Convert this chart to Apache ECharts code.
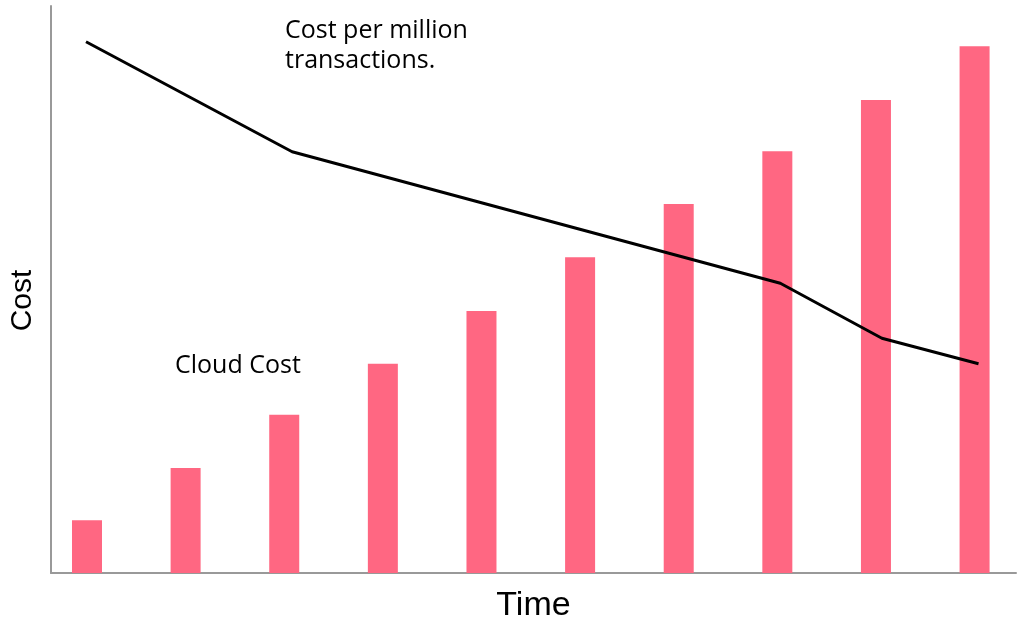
<!DOCTYPE html>
<html>
<head>
<meta charset="utf-8">
<script src="https://cdn.jsdelivr.net/npm/echarts@6/dist/echarts.min.js"></script>
<style>html,body{margin:0;padding:0;background:#fff}#c{width:1024px;height:629px}</style>
</head>
<body>
<div id="c"></div>
<script>
// Data (arbitrary units, 0-100 scale)
var barPositions = [1, 2, 3, 4, 5, 6, 7, 8, 9, 10];
var cloudCost = [9.3, 18.5, 27.9, 36.9, 46.2, 55.7, 65.1, 74.4, 83.4, 92.9];
var linePositions = [0.99, 3.08, 8.03, 9.06, 10.04];
var costPerMillion = [93.7, 74.3, 51.1, 41.4, 36.9];
var xAxisName = 'Time';
var yAxisName = 'Cost';
var barLabel = 'Cloud Cost';
var lineLabel = 'Cost per million\ntransactions.';

var chart = echarts.init(document.getElementById('c'), null, {renderer: 'canvas'});
var annoFont = '"Open Sans", Lato, sans-serif';
chart.setOption({
  animation: false,
  backgroundColor: '#ffffff',
  grid: {left: 51, right: 8, top: 6, bottom: 56, containLabel: false},
  xAxis: {
    type: 'value', min: 0.635, max: 10.42,
    name: xAxisName, nameLocation: 'middle', nameGap: 16,
    nameTextStyle: {fontSize: 34, color: '#000', fontFamily: '"Liberation Sans", Arial, sans-serif'},
    axisLine: {show: true, lineStyle: {color: '#999', width: 2}},
    axisTick: {show: false}, axisLabel: {show: false}, splitLine: {show: false}
  },
  yAxis: {
    type: 'value', min: 0, max: 100,
    name: yAxisName, nameLocation: 'middle', nameGap: 13, nameRotate: 90,
    nameTextStyle: {fontSize: 30, color: '#000', fontFamily: '"Liberation Sans", Arial, sans-serif', padding: [0, 22, 0, 0]},
    axisLine: {show: true, lineStyle: {color: '#999', width: 2}},
    axisTick: {show: false}, axisLabel: {show: false}, splitLine: {show: false}
  },
  series: [
    {
      type: 'bar', barWidth: 30,
      data: barPositions.map(function (x, i) { return [x, cloudCost[i]]; }),
      itemStyle: {color: '#ff6782'}
    },
    {
      type: 'line', symbol: 'none',
      data: linePositions.map(function (x, i) { return [x, costPerMillion[i]]; }),
      lineStyle: {color: '#000', width: 3}
    }
  ],
  graphic: [
    {type: 'text', left: 285, top: 16, style: {text: lineLabel, fontSize: 25, fontFamily: annoFont, lineHeight: 30, fill: '#000'}},
    {type: 'text', left: 175, top: 351, style: {text: barLabel, fontSize: 25, fontFamily: annoFont, lineHeight: 30, fill: '#000'}}
  ]
});
</script>
</body>
</html>
